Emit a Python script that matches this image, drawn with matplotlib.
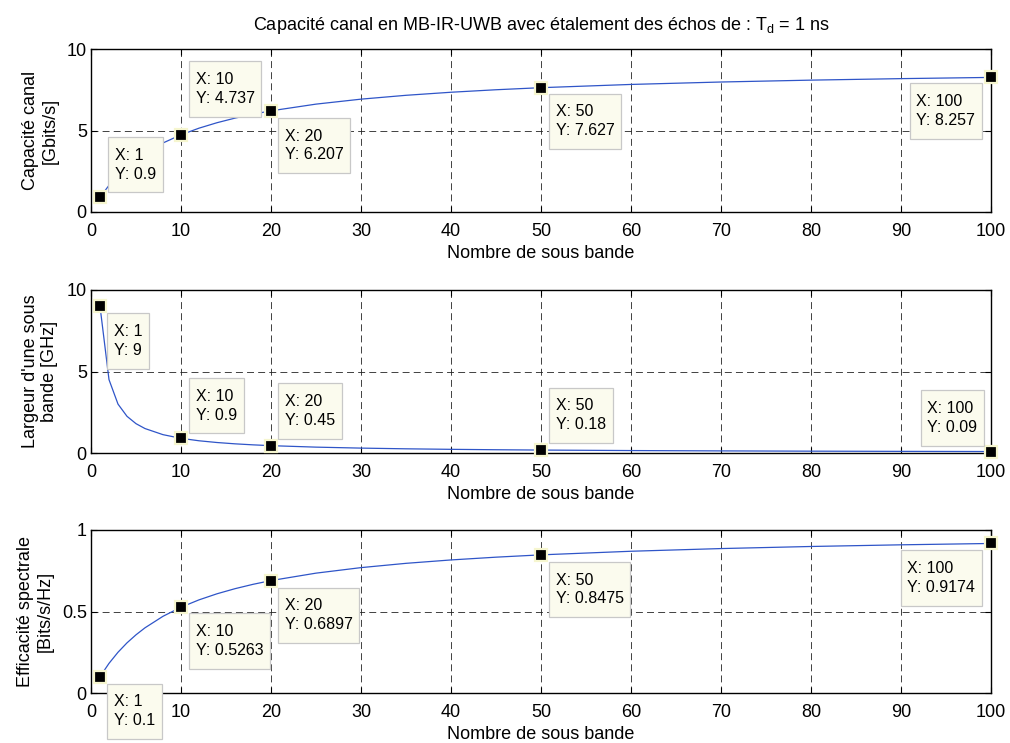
import matplotlib
matplotlib.use('Agg')
import matplotlib.pyplot as plt

plt.rcParams['font.family'] = ['Liberation Sans', 'DejaVu Sans']
plt.rcParams['lines.scale_dashes'] = False

# nombre de sous bandes
n_bands = [1, 2, 3, 4, 5, 6, 8, 10, 12, 14, 16, 18, 20, 25, 30, 35, 40, 45, 50, 60, 70, 80, 90, 100]
# capacite canal [Gbits/s]
capacity = [0.9, 1.636, 2.25, 2.769, 3.214, 3.6, 4.235, 4.737, 5.143, 5.478, 5.76, 6.0, 6.207,
            6.618, 6.923, 7.159, 7.347, 7.5, 7.627, 7.826, 7.975, 8.09, 8.182, 8.257]
# largeur d'une sous bande [GHz]
bandwidth = [9, 4.5, 3, 2.25, 1.8, 1.5, 1.125, 0.9, 0.75, 0.643, 0.5625, 0.5, 0.45,
             0.36, 0.3, 0.257, 0.225, 0.2, 0.18, 0.15, 0.129, 0.1125, 0.1, 0.09]
# efficacite spectrale [Bits/s/Hz]
efficiency = [0.1, 0.1818, 0.25, 0.3077, 0.357, 0.4, 0.4706, 0.5263, 0.5714, 0.6087, 0.64, 0.6667, 0.6897,
              0.7353, 0.7692, 0.7955, 0.8163, 0.8333, 0.8475, 0.8696, 0.8861, 0.8989, 0.9091, 0.9174]

# data tips
tip_x = [1, 10, 20, 50, 100]
tip_capacity = [0.9, 4.737, 6.207, 7.627, 8.257]
tip_bandwidth = [9, 0.9, 0.45, 0.18, 0.09]
tip_efficiency = [0.1, 0.5263, 0.6897, 0.8475, 0.9174]

# where each tip box sits relative to its marker: (dx px, dy px, corner)
tip_pos_1 = [(8, 5, 'll'), (8, 18, 'll'), (7, -7, 'ul'), (8, -6, 'ul'), (-9, -6, 'ur')]
tip_pos_2 = [(7, -7, 'ul'), (8, 5, 'll'), (7, 7, 'll'), (8, 7, 'll'), (-7, 6, 'lr')]
tip_pos_3 = [(7, -7, 'ul'), (8, -6, 'ul'), (7, -7, 'ul'), (8, -7, 'ul'), (-9, -7, 'ur')]

fig = plt.figure(figsize=(10.1, 7.43), dpi=100)
W = 1010.0
H = 743.0
left = 91 / W
width = 900 / W
height = 163 / H
ax1 = fig.add_axes([left, 1 - 212 / H, width, height])
ax2 = fig.add_axes([left, 1 - 453 / H, width, height])
ax3 = fig.add_axes([left, 1 - 693 / H, width, height])

FS = 13
TIP_FS = 11.5
PAD = 0.42  # fraction of font size
ASPECT = 1.6  # taller padding top/bottom
pad_x = PAD * TIP_FS
pad_y = PAD * TIP_FS * ASPECT


def add_tips(ax, xs, ys, positions):
    ax.plot(xs, ys, 's', color='black', ms=8.5, mec='#f6f6cf', mew=1.6, clip_on=False, zorder=5)
    for x, y, (dx, dy, corner) in zip(xs, ys, positions):
        dxp = dx * 0.72
        dyp = dy * 0.72
        if corner[1] == 'l':
            ha = 'left'
            dxp += pad_x
        else:
            ha = 'right'
            dxp -= pad_x
        if corner[0] == 'l':
            va = 'bottom'
            dyp += pad_y
        else:
            va = 'top'
            dyp -= pad_y
        ax.annotate('X: %g\nY: %g' % (x, y), xy=(x, y), xytext=(dxp, dyp),
                    textcoords='offset points', ha=ha, va=va, multialignment='left',
                    fontsize=TIP_FS, linespacing=1.32, annotation_clip=False, zorder=6,
                    bbox=dict(boxstyle='square,pad=%g' % PAD, mutation_aspect=ASPECT,
                              fc='#fbfbee', ec='#c8c8c8', lw=0.9))


def style(ax, yticks, ylabel):
    ax.set_xlim(0, 100)
    ax.set_ylim(yticks[0], yticks[-1])
    ax.set_xticks(range(0, 101, 10))
    ax.set_yticks(yticks)
    ax.set_yticklabels(['%g' % t for t in yticks])
    ax.tick_params(direction='in', top=True, right=True, length=4, labelsize=FS, width=0.8)
    ax.tick_params(axis='x', pad=8)
    ax.tick_params(axis='y', pad=3)
    ax.grid(True, color='#222222', linestyle=(0, (5, 3)), linewidth=0.6)
    ax.set_axisbelow(True)
    ax.set_xlabel('Nombre de sous bande', fontsize=FS, labelpad=3.5)
    ax.set_ylabel(ylabel, fontsize=FS, labelpad=6)
    for s in ax.spines.values():
        s.set_linewidth(1.0)


line_color = '#2f55c8'

ax1.plot(n_bands, capacity, color=line_color, lw=0.9)
style(ax1, [0, 5, 10], 'Capacité canal\n[Gbits/s]')
add_tips(ax1, tip_x, tip_capacity, tip_pos_1)

ax2.plot(n_bands, bandwidth, color=line_color, lw=0.9)
style(ax2, [0, 5, 10], "Largeur d'une sous\nbande [GHz]")
add_tips(ax2, tip_x, tip_bandwidth, tip_pos_2)

ax3.plot(n_bands, efficiency, color=line_color, lw=0.9)
style(ax3, [0, 0.5, 1], 'Efficacité spectrale\n[Bits/s/Hz]')
add_tips(ax3, tip_x, tip_efficiency, tip_pos_3)

ax1.set_title('Capacité canal en MB-IR-UWB avec étalement des échos de : T$_\\mathregular{d}$ = 1 ns',
              fontsize=FS, pad=14)

fig.savefig('out.png', dpi=100)
